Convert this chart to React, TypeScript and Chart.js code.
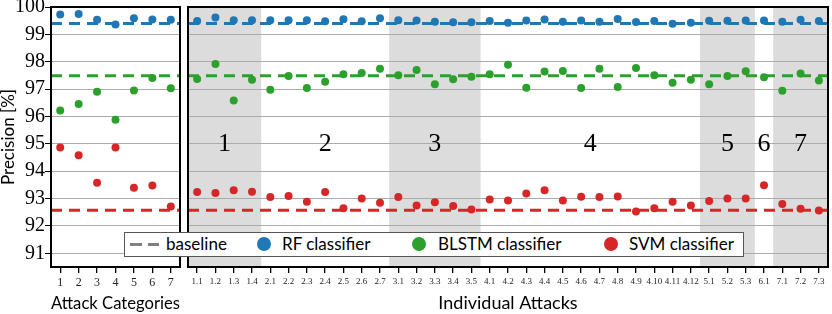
import React, { useEffect, useRef } from 'react';
import { Chart, registerables } from 'chart.js';

Chart.register(...registerables);

// ---------- data ----------
const attackCategories = ['1', '2', '3', '4', '5', '6', '7'];
const categoryRF = [99.73, 99.74, 99.53, 99.36, 99.59, 99.54, 99.53];
const categoryBLSTM = [96.22, 96.46, 96.9, 95.88, 96.95, 97.41, 97.03];
const categorySVM = [94.87, 94.58, 93.58, 94.87, 93.4, 93.48, 92.71];

const attackGroups = ['1', '2', '3', '4', '5', '6', '7'];
const groupSizes = [4, 7, 5, 12, 3, 1, 3];
const shadedGroups = [true, false, true, false, true, false, true];

const individualAttacks = [
  '1.1', '1.2', '1.3', '1.4',
  '2.1', '2.2', '2.3', '2.4', '2.5', '2.6', '2.7',
  '3.1', '3.2', '3.3', '3.4', '3.5',
  '4.1', '4.2', '4.3', '4.4', '4.5', '4.6', '4.7', '4.8', '4.9', '4.10', '4.11', '4.12',
  '5.1', '5.2', '5.3',
  '6.1',
  '7.1', '7.2', '7.3',
];
const individualRF = [
  99.49, 99.62, 99.52, 99.52,
  99.52, 99.52, 99.52, 99.48, 99.55, 99.48, 99.59,
  99.52, 99.51, 99.46, 99.44, 99.44,
  99.49, 99.42, 99.51, 99.54, 99.46, 99.51, 99.46, 99.56, 99.45, 99.49, 99.39, 99.42,
  99.5, 99.5, 99.51,
  99.51,
  99.46, 99.53, 99.49,
];
const individualBLSTM = [
  97.37, 97.92, 96.58, 97.34,
  96.98, 97.48, 97.04, 97.27, 97.54, 97.59, 97.74,
  97.51, 97.7, 97.18, 97.36, 97.45,
  97.54, 97.89, 97.05, 97.64, 97.66, 97.04, 97.74, 97.08, 97.77, 97.51, 97.23, 97.34,
  97.18, 97.48, 97.65,
  97.43,
  96.94, 97.57, 97.31,
];
const individualSVM = [
  93.24, 93.2, 93.3, 93.25,
  93.06, 93.09, 92.88, 93.24, 92.65, 93.0, 92.85,
  93.06, 92.75, 92.87, 92.73, 92.6,
  92.97, 92.93, 93.19, 93.3, 92.93, 93.07, 93.06, 93.08, 92.53, 92.65, 92.88, 92.75,
  92.91, 93.0, 93.0,
  93.49,
  92.8, 92.63, 92.56,
];

const baselineRF = 99.4;
const baselineBLSTM = 97.49;
const baselineSVM = 92.57;

const yTickValues = [91, 92, 93, 94, 95, 96, 97, 98, 99, 100];
const yMin = 90.5;
const yMax = 100;
const groupLabelLevel = 95;

// ---------- styles ----------
const BLUE = '#1f77b4';
const GREEN = '#2ca02c';
const RED = '#d62728';
const SERIF = "'Liberation Serif', 'DejaVu Serif', serif";
const SANS = "Lato, 'Open Sans', sans-serif";
const GRID = '#ababab';
const SHADE = '#dcdcdc';

const baselineList = [
  { value: baselineRF, color: BLUE },
  { value: baselineBLSTM, color: GREEN },
  { value: baselineSVM, color: RED },
];

const overlayPlugin = (withGroups: boolean) => ({
  id: 'overlay' + (withGroups ? 'G' : 'C'),
  beforeDraw(chart: any) {
    if (!withGroups) return;
    const { ctx, chartArea, scales } = chart;
    const x = scales.x;
    const half = (x.getPixelForValue(1) - x.getPixelForValue(0)) / 2;
    let start = 0;
    ctx.save();
    ctx.fillStyle = SHADE;
    groupSizes.forEach((n, g) => {
      if (shadedGroups[g]) {
        const x0 = Math.max(chartArea.left, x.getPixelForValue(start) - half);
        const x1 = Math.min(chartArea.right, x.getPixelForValue(start + n - 1) + half);
        ctx.fillRect(x0, chartArea.top, x1 - x0, chartArea.bottom - chartArea.top);
      }
      start += n;
    });
    ctx.restore();
  },
  afterDatasetsDraw(chart: any) {
    const { ctx, chartArea, scales } = chart;
    const x = scales.x;
    const y = scales.y;
    ctx.save();
    // baselines
    ctx.lineWidth = 3;
    ctx.setLineDash([11, 7]);
    baselineList.forEach((b) => {
      const py = y.getPixelForValue(b.value);
      ctx.strokeStyle = b.color;
      ctx.beginPath();
      ctx.moveTo(chartArea.left, py);
      ctx.lineTo(chartArea.right, py);
      ctx.stroke();
    });
    ctx.setLineDash([]);
    // group labels
    if (withGroups) {
      let start = 0;
      ctx.fillStyle = '#000';
      ctx.font = `26px ${SERIF}`;
      ctx.textAlign = 'center';
      ctx.textBaseline = 'middle';
      const py = y.getPixelForValue(groupLabelLevel);
      groupSizes.forEach((n, g) => {
        const cx = (x.getPixelForValue(start) + x.getPixelForValue(start + n - 1)) / 2;
        ctx.fillText(attackGroups[g], cx, py);
        start += n;
      });
    }
    // frame
    ctx.strokeStyle = '#000';
    ctx.lineWidth = 2;
    ctx.strokeRect(chartArea.left, chartArea.top, chartArea.right - chartArea.left, chartArea.bottom - chartArea.top);
    ctx.restore();
  },
});

function makeDatasets(rf: number[], bl: number[], svm: number[]) {
  const common = {
    showLine: false,
    pointRadius: 4,
    pointHoverRadius: 4,
    pointBorderWidth: 0,
  };
  return [
    { ...common, label: 'RF classifier', data: rf, backgroundColor: BLUE, pointBackgroundColor: BLUE, borderColor: BLUE },
    { ...common, label: 'BLSTM classifier', data: bl, backgroundColor: GREEN, pointBackgroundColor: GREEN, borderColor: GREEN },
    { ...common, label: 'SVM classifier', data: svm, backgroundColor: RED, pointBackgroundColor: RED, borderColor: RED },
  ];
}

function makeOptions(isLeft: boolean, xTitle: string) {
  return {
    responsive: false,
    animation: false,
    events: [],
    layout: { padding: isLeft ? { top: 7, right: 2, left: 0, bottom: 0 } : { top: 7, right: 2, left: 2, bottom: 0 } },
    plugins: { legend: { display: false }, tooltip: { enabled: false } },
    scales: {
      x: {
        type: 'category',
        offset: true,
        border: { display: false },
        grid: { drawOnChartArea: false, drawTicks: true, tickLength: 6, tickColor: '#000', color: '#000', offset: false, lineWidth: 1.3 },
        ticks: {
          autoSkip: false,
          maxRotation: 0,
          color: '#222',
          font: { family: SERIF, size: isLeft ? 12 : 9 },
          padding: isLeft ? 3 : 3,
        },
        title: {
          display: true,
          text: xTitle,
          color: '#000',
          font: { family: SANS, size: 18, lineHeight: 1.2 },
          padding: 0,
        },
        afterFit(scale: any) {
          scale.height = 47;
          scale.paddingLeft = 0;
          scale.paddingRight = 0;
        },
      },
      y: {
        type: 'linear',
        min: yMin,
        max: yMax,
        border: { display: false },
        afterBuildTicks(scale: any) {
          scale.ticks = yTickValues.map((v) => ({ value: v }));
        },
        grid: {
          color: GRID,
          lineWidth: 1,
          drawTicks: isLeft,
          tickLength: 6,
          tickColor: '#000',
        },
        ticks: {
          display: isLeft,
          color: '#000',
          font: { family: SERIF, size: 20 },
          padding: 0,
        },
        title: {
          display: isLeft,
          text: 'Precision [%]',
          color: '#000',
          font: { family: SANS, size: 17, lineHeight: 1 },
          padding: 0,
        },
        afterFit(scale: any) {
          scale.width = isLeft ? 51 : 0;
          scale.paddingTop = 0;
          scale.paddingBottom = 0;
        },
      },
    },
  } as any;
}

function PanelChart(props: { left: number; width: number; isLeft: boolean }) {
  const ref = useRef<HTMLCanvasElement | null>(null);
  useEffect(() => {
    if (!ref.current) return;
    const isLeft = props.isLeft;
    const chart = new Chart(ref.current, {
      type: 'line',
      data: {
        labels: isLeft ? attackCategories : individualAttacks,
        datasets: isLeft
          ? makeDatasets(categoryRF, categoryBLSTM, categorySVM)
          : makeDatasets(individualRF, individualBLSTM, individualSVM),
      } as any,
      options: makeOptions(isLeft, isLeft ? 'Attack Categories' : 'Individual Attacks'),
      plugins: [overlayPlugin(!isLeft)],
    });
    return () => chart.destroy();
  }, []);
  return (
    <canvas
      ref={ref}
      width={props.width}
      height={314}
      style={{ position: 'absolute', left: props.left, top: 0, width: props.width, height: 314 }}
    />
  );
}

const legendItems = [
  { kind: 'dash', color: '#808080', label: 'baseline', markerX: 5, textX: 41 },
  { kind: 'dot', color: BLUE, label: 'RF classifier', markerX: 132, textX: 157 },
  { kind: 'dot', color: GREEN, label: 'BLSTM classifier', markerX: 287, textX: 313 },
  { kind: 'dot', color: RED, label: 'SVM classifier', markerX: 479, textX: 504 },
];

export default function App() {
  return (
    <div style={{ position: 'absolute', left: 0, top: 0, width: 832, height: 314, background: '#fff', overflow: 'hidden' }}>
      <PanelChart left={0} width={184} isLeft={true} />
      <PanelChart left={184} width={648} isLeft={false} />
      <div
        style={{
          position: 'absolute',
          left: 124,
          top: 232,
          width: 620,
          height: 25,
          boxSizing: 'border-box',
          border: '1.5px solid #555',
          background: '#fff',
          fontFamily: SANS,
          fontSize: 17,
          color: '#000',
        }}
      >
        {legendItems.map((it) => (
          <React.Fragment key={it.label}>
            {it.kind === 'dash' ? (
              <>
                <div style={{ position: 'absolute', left: it.markerX, top: 10, width: 12, height: 3, background: it.color }} />
                <div style={{ position: 'absolute', left: it.markerX + 18, top: 10, width: 11, height: 3, background: it.color }} />
              </>
            ) : (
              <div
                style={{
                  position: 'absolute',
                  left: it.markerX,
                  top: 4,
                  width: 14,
                  height: 14,
                  borderRadius: '50%',
                  background: it.color,
                }}
              />
            )}
            <div style={{ position: 'absolute', left: it.textX, top: 0, height: 22, lineHeight: '22px', whiteSpace: 'nowrap' }}>
              {it.label}
            </div>
          </React.Fragment>
        ))}
      </div>
    </div>
  );
}
